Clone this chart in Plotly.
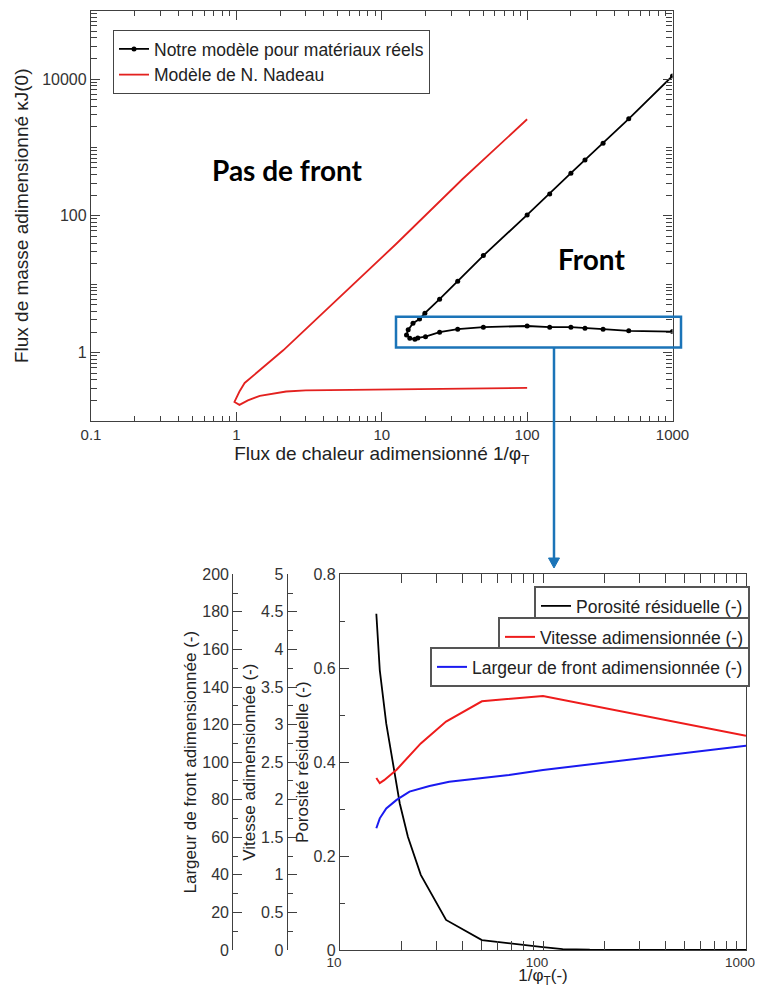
import plotly.graph_objects as go

# The page body adds an 8 px margin; keep the page from scrolling
OFF = 8
W, H = 763 - OFF, 996 - 2 * OFF
FONT = "Liberation Sans, Arial, Helvetica, sans-serif"
AX = "#404040"

# ---------------- Top chart data ----------------
real_x = [1000, 500, 333, 250, 200, 143, 100, 50, 33.3, 25, 20, 17.7, 16.9, 15.6, 14.8,
          15.2, 16.4, 18.2, 19.8, 25, 33.3, 50, 100, 143, 200, 250, 333, 500, 1000]
real_y = [2.03, 2.08, 2.2, 2.27, 2.35, 2.35, 2.45, 2.35, 2.2, 1.99, 1.71, 1.64, 1.57, 1.62, 1.81,
          2.15, 2.69, 3.1, 3.77, 6.05, 11.0, 26.2, 103, 209, 420, 657, 1150, 2620, 11100]

nadeau_x = [100, 50, 20, 10, 4.9, 3, 2.2, 1.45, 1.2, 1.05, 0.97,
            1.05, 1.14, 1.45, 2.1, 12.6, 36, 100]
nadeau_y = [0.305, 0.30, 0.30, 0.295, 0.29, 0.28, 0.27, 0.233, 0.20, 0.172, 0.19,
            0.27, 0.36, 0.56, 1.08, 39, 345, 2580]

top_xticks = [0.1, 1, 10, 100, 1000]
top_xtext = ["0.1", "1", "10", "100", "1000"]
top_yticks = [1, 100, 10000]
top_ytext = ["1", "100", "10000"]

# ---------------- Bottom chart data ----------------
por_x = [15.1, 15.7, 16.9, 18.3, 19.7, 21.6, 25, 33.3, 50, 100, 125, 170, 1000]
por_y = [0.716, 0.596, 0.482, 0.397, 0.312, 0.241, 0.16, 0.064, 0.021, 0.006, 0.002, 0.0005, 0.0]

vit_x = [15.1, 15.7, 16.5, 19, 25, 33.3, 50, 100, 1000]
vit_y = [2.29, 2.22, 2.26, 2.40, 2.75, 3.04, 3.31, 3.38, 2.85]

larg_x = [15.1, 15.7, 16.9, 19, 22, 27.6, 34.5, 68, 100, 1000]
larg_y = [64.8, 70.1, 75.4, 79.9, 84.3, 87.3, 89.6, 93.2, 95.8, 108.8]

bot_xticks = [10, 100, 1000]
bot_xtext = ["10", "100", "1000"]


def px(x):
    return (x - OFF) / W


def py(y):
    return 1 - (y - OFF) / H


def log_minor(e0, e1, extra=()):
    vals = [m * 10 ** e for e in range(e0, e1) for m in range(2, 10)]
    return vals + list(extra)


fig = go.Figure()

fig.add_trace(go.Scatter(
    x=real_x, y=real_y, mode="lines+markers", name="Notre modèle pour matériaux réels",
    line=dict(color="black", width=1.8), marker=dict(color="black", size=5),
    xaxis="x", yaxis="y", legend="legend"))
fig.add_trace(go.Scatter(
    x=nadeau_x, y=nadeau_y, mode="lines", name="Modèle de N. Nadeau",
    line=dict(color="#e3211f", width=1.8), xaxis="x", yaxis="y", legend="legend"))

fig.add_trace(go.Scatter(
    x=por_x, y=por_y, mode="lines", name="Porosité résiduelle (-)",
    line=dict(color="black", width=1.8), xaxis="x2", yaxis="y2", legend="legend2"))
fig.add_trace(go.Scatter(
    x=vit_x, y=vit_y, mode="lines", name="Vitesse adimensionnée (-)",
    line=dict(color="#ee1c1c", width=2), xaxis="x2", yaxis="y3", legend="legend3"))
fig.add_trace(go.Scatter(
    x=larg_x, y=larg_y, mode="lines", name="Largeur de front adimensionnée (-)",
    line=dict(color="#1a1af0", width=2), xaxis="x2", yaxis="y4", legend="legend4"))


def common(size):
    return dict(showline=True, linecolor=AX, linewidth=1.3, ticks="inside", tickcolor=AX,
                tickwidth=1.1, showgrid=False, zeroline=False, automargin=False,
                tickfont=dict(family=FONT, size=size, color="#333"))


fig.update_layout(
    width=W, height=H, margin=dict(l=0, r=0, t=0, b=0, autoexpand=False),
    paper_bgcolor="white", plot_bgcolor="white",
    font=dict(family=FONT, color="#222"),
    xaxis=dict(type="log", range=[-1, 3], domain=[px(91), px(672.5)], anchor="y",
               tickmode="array", tickvals=top_xticks, ticktext=top_xtext, ticklen=9,
               mirror="allticks",
               minor=dict(ticks="inside", ticklen=5, tickcolor=AX, tickmode="array",
                          tickvals=log_minor(-1, 3), showgrid=False),
               title=dict(text="Flux de chaleur adimensionné 1/φ<sub>T</sub>",
                          font=dict(size=19, color="#222"), standoff=3),
               **common(15)),
    yaxis=dict(type="log", range=[-1, 5], domain=[py(421), py(10.6)], anchor="x",
               tickmode="array", tickvals=top_yticks, ticktext=top_ytext, ticklen=9,
               mirror="allticks",
               minor=dict(ticks="inside", ticklen=6, tickcolor=AX, tickmode="array",
                          tickvals=log_minor(-1, 5, extra=(0.1, 10, 1000, 100000)),
                          showgrid=False),
               title=dict(text="Flux de masse adimensionné κJ(0)",
                          font=dict(size=19, color="#222"), standoff=8),
               **common(16)),
    xaxis2=dict(type="log", range=[1, 3], domain=[px(340), px(746)], anchor="y2",
                tickmode="array", tickvals=bot_xticks, ticktext=bot_xtext, ticklen=9,
                mirror="allticks", ticklabelshift=-6,
                minor=dict(ticks="inside", ticklen=5, tickcolor=AX, tickmode="array",
                           tickvals=log_minor(1, 3), showgrid=False),
                title=dict(text="1/φ<sub>T</sub>(-)", font=dict(size=17, color="#222"),
                           standoff=6),
                **common(13.5)),
    yaxis2=dict(range=[0, 0.8], domain=[py(950), py(574.3)], anchor="x2", side="left",
                dtick=0.2, tick0=0, ticklen=9, mirror=True,
                minor=dict(ticks="inside", ticklen=5, tickcolor=AX, dtick=0.1, showgrid=False),
                title=dict(text="Porosité résiduelle (-)", font=dict(size=17, color="#222"),
                           standoff=0),
                **common(16)),
    yaxis3=dict(range=[0, 5], overlaying="y2", anchor="free", position=px(286.7), side="left",
                dtick=0.5, tick0=0, ticklen=9,
                minor=dict(ticks="inside", ticklen=5, tickcolor=AX, dtick=0.25, showgrid=False),
                title=dict(text="Vitesse adimensionnée (-)", font=dict(size=17, color="#222"),
                           standoff=0),
                **common(16)),
    yaxis4=dict(range=[0, 200], overlaying="y2", anchor="free", position=px(232.3), side="left",
                dtick=20, tick0=0, ticklen=9,
                minor=dict(ticks="inside", ticklen=5, tickcolor=AX, dtick=10, showgrid=False),
                title=dict(text="Largeur de front adimensionnée (-)",
                           font=dict(size=17, color="#222"), standoff=0),
                **common(16)),
    legend=dict(x=px(113), y=py(30), xanchor="left", yanchor="top",
                bordercolor="#444", borderwidth=1, bgcolor="white",
                font=dict(family=FONT, size=17.5, color="#222"), tracegroupgap=0),
    legend2=dict(x=px(750), y=py(586), xanchor="right", yanchor="top",
                 bordercolor="#555", borderwidth=2, bgcolor="white",
                 font=dict(family=FONT, size=17.5, color="#222")),
    legend3=dict(x=px(750), y=py(617), xanchor="right", yanchor="top",
                 bordercolor="#555", borderwidth=2, bgcolor="white",
                 font=dict(family=FONT, size=17.5, color="#222")),
    legend4=dict(x=px(750), y=py(647), xanchor="right", yanchor="top",
                 bordercolor="#555", borderwidth=2, bgcolor="white",
                 font=dict(family=FONT, size=17.5, color="#222")),
)

BLUE = "#1b74b8"
fig.add_shape(type="rect", xref="paper", yref="paper",
              x0=px(396), x1=px(681), y0=py(347.5), y1=py(316.7),
              line=dict(color=BLUE, width=2.5))
fig.add_shape(type="line", xref="paper", yref="paper",
              x0=px(554), x1=px(554), y0=py(347.5), y1=py(559),
              line=dict(color=BLUE, width=2.5))
fig.add_shape(type="path", xref="paper", yref="paper",
              path=f"M {px(548.5)} {py(558)} L {px(559.5)} {py(558)} L {px(554)} {py(568)} Z",
              fillcolor=BLUE, line=dict(color=BLUE, width=1))

fig.add_annotation(text="<b>Pas de front</b>", xref="paper", yref="paper",
                   x=px(287), y=py(170), xanchor="center", yanchor="middle", showarrow=False,
                   font=dict(family="Lato, Open Sans, sans-serif", size=28, color="black"))
fig.add_annotation(text="<b>Front</b>", xref="paper", yref="paper",
                   x=px(591), y=py(259), xanchor="center", yanchor="middle", showarrow=False,
                   font=dict(family="Lato, Open Sans, sans-serif", size=28, color="black"))

fig.write_html("out.html")
